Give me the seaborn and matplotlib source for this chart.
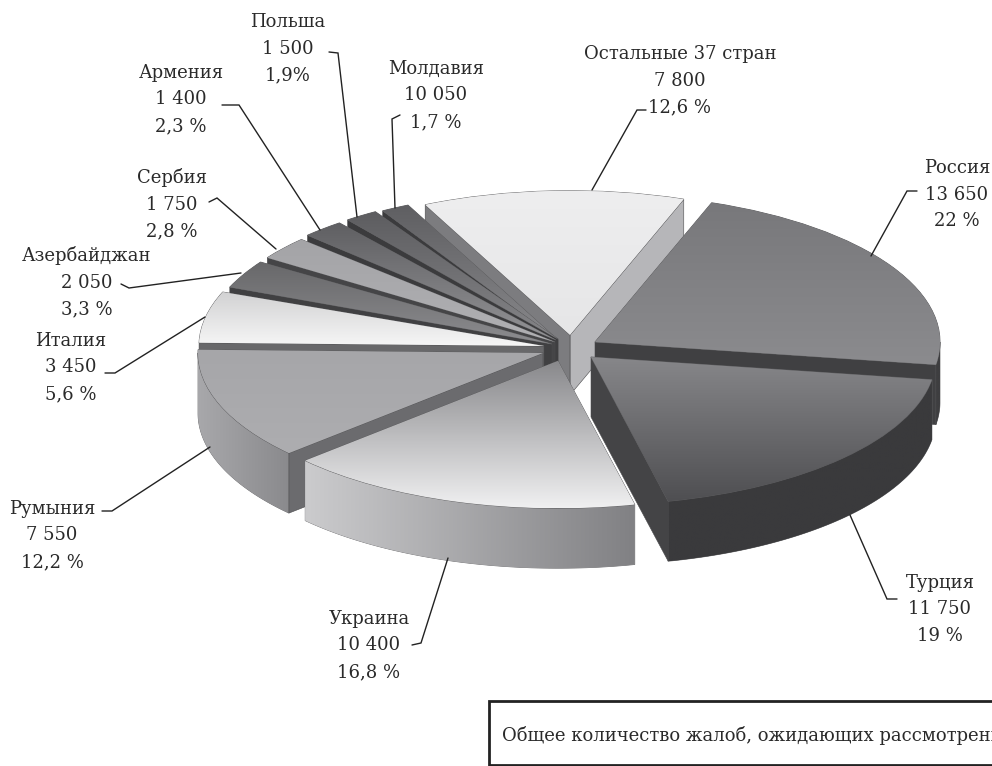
import numpy as np
import matplotlib
matplotlib.use("Agg")
import matplotlib.pyplot as plt
from matplotlib.patches import Polygon, Rectangle
import seaborn as sns

countries = ["Остальные 37 стран", "Россия", "Турция", "Украина", "Румыния", "Италия",
             "Азербайджан", "Сербия", "Армения", "Польша", "Молдавия"]
counts = ["7 800", "13 650", "11 750", "10 400", "7 550", "3 450", "2 050", "1 750", "1 400", "1 500", "10 050"]
share_text = ["12,6 %", "22 %", "19 %", "16,8 %", "12,2 %", "5,6 %", "3,3 %", "2,8 %", "2,3 %", "1,9%", "1,7 %"]
shares = [12.6, 22, 19, 16.8, 12.2, 5.6, 3.3, 2.8, 2.3, 1.9, 1.7]
box_text = "Общее количество жалоб, ожидающих рассмотрения"

W, H = 992, 766
RX, RY, DEPTH = 345.0, 148.0, 60.0
CX0, CY0 = 555.0, 345.0
START = 115.5

# layout / style per slice
tips = [(570, 335), (595, 342), (591, 357), (558, 361), (543, 353), (544, 346),
        (552, 344), (555, 342), (556, 340), (558, 339), (558, 340)]
radii = [.975, 1.0, 1.0, .995, 1.0, 1.0, 1.01, 1.01, 1.01, 1.01, 1.01]
trim = [0, 0, 0, 0, 0, 0, 1.0, 1.1, 1.2, 1.3, 1.4]
top_hi = ["#eeeeef", "#78787b", "#87878a", "#88888b", "#a6a6a9", "#d2d2d3",
          "#68686a", "#a4a4a7", "#5f5f62", "#5d5d60", "#5f5f62"]
top_lo = ["#e6e6e7", "#8b8b8e", "#4f4f52", "#f0f0f1", "#adadb0", "#f6f6f6",
          "#8c8c8f", "#b0b0b3", "#939396", "#858588", "#88888b"]
wall_l = ["#c8c8ca", "#3e3e40", "#3a3a3c", "#cbcbcd", "#a8a8ab", "#8f8f91",
          "#444446", "#444446", "#3a3a3c", "#3a3a3c", "#3a3a3c"]
wall_r = ["#c8c8ca", "#3e3e40", "#3a3a3c", "#818184", "#8a8a8d", "#8f8f91",
          "#444446", "#444446", "#3a3a3c", "#3a3a3c", "#3a3a3c"]
side_lo = ["#b6b6b9", "#404042", "#444446", "#9a9a9c", "#6b6b6e", "#68686a",
           "#404042", "#454547", "#3b3b3d", "#3b3b3d", "#3b3b3d"]
side_hi = ["#7c7c7f", "#404042", "#444446", "#9a9a9c", "#6b6b6e", "#68686a",
           "#404042", "#454547", "#3b3b3d", "#3b3b3d", "#3b3b3d"]
order = [0, 10, 9, 8, 7, 6, 5, 4, 3, 1, 2]

# label placement: centre x, centre y of first line, leader polyline in pixels
label_x = [680, 957, 940, 369, 52, 71, 87, 172, 181, 288, 436]
label_y = [53, 167, 582, 618, 508, 340, 255, 177, 72, 21, 68]
leaders = [[(646, 110), (637, 110), (592, 190)],
           [(917, 191), (907, 191), (871, 256)],
           [(850, 515), (887, 599), (897, 599)],
           [(448, 558), (421, 643), (412, 645)],
           [(210, 447), (112, 511), (102, 511)],
           [(205, 317), (115, 373), (105, 373)],
           [(241, 273), (129, 288), (121, 284)],
           [(276, 249), (217, 198), (209, 202)],
           [(320, 230), (239, 105), (222, 105)],
           [(357, 217), (338, 53), (329, 52)],
           [(395, 208), (392, 119), (400, 115)]]

sns.set_theme(style="white")
plt.rcParams["font.family"] = ["DejaVu Serif"]

fig = plt.figure(figsize=(W / 100, H / 100), dpi=100, facecolor="white")
ax = fig.add_axes([0, 0, 1, 1])
wedges, _ = ax.pie(shares, startangle=START, counterclock=False, colors=top_lo,
                   wedgeprops=dict(linewidth=0.6, edgecolor="#5a5a5c"))
ax.set_aspect("auto")
xlim = (-CX0 / RX, (W - CX0) / RX)
ylim = ((CY0 - H) / RY, CY0 / RY)


def ux(px):
    return (px - CX0) / RX


def uy(py):
    return (CY0 - py) / RY


d = DEPTH / RY
grad = np.linspace(0, 1, 128)
for rank, i in enumerate(order):
    w = wedges[i]
    cx, cy, r = ux(tips[i][0]), uy(tips[i][1]), radii[i]
    w.set_center((cx, cy))
    w.set_radius(r)
    w.set_theta2(w.theta2 - trim[i])
    base = 10 + rank * 5
    t1, t2 = w.theta1, w.theta2
    w.set_zorder(base + 3)

    # radial faces that look toward the viewer
    for th, visible, col in ((t1, np.cos(np.radians(t1)) > 0, side_lo[i]),
                             (t2, np.cos(np.radians(t2)) < 0, side_hi[i])):
        if visible:
            ex, ey = cx + r * np.cos(np.radians(th)), cy + r * np.sin(np.radians(th))
            ax.add_patch(Polygon([(cx, cy), (ex, ey), (ex, ey - d), (cx, cy - d)],
                                 closed=True, facecolor=col, edgecolor="#4a4a4c",
                                 linewidth=0.4, zorder=base + 1))

    # outer wall on the lower half of the ellipse
    lo, hi = t1, t2
    while hi > 0 and lo >= 0:
        lo, hi = lo - 360, hi - 360
    while hi <= -180:
        lo, hi = lo + 360, hi + 360
    a, b = max(lo, -180), min(hi, 0)
    if b > a:
        th = np.radians(np.linspace(a, b, 60))
        xs, ys = cx + r * np.cos(th), cy + r * np.sin(th)
        pts = np.r_[np.c_[xs, ys], np.c_[xs[::-1], ys[::-1] - d]]
        poly = Polygon(pts, closed=True, facecolor=wall_l[i], edgecolor="#6a6a6c",
                       linewidth=0.5, zorder=base)
        ax.add_patch(poly)
        cm = sns.blend_palette([wall_l[i], wall_r[i]], 64, as_cmap=True)
        im = ax.imshow(grad[None, :], cmap=cm, aspect="auto", origin="lower",
                       extent=(xs.min(), xs.max(), pts[:, 1].min(), pts[:, 1].max()),
                       zorder=base + 0.5)
        im.set_clip_path(poly)

    # gradient on the top face
    cm = sns.blend_palette([top_lo[i], top_hi[i]], 64, as_cmap=True)
    bb = np.array([[cx + r * np.cos(np.radians(q)), cy + r * np.sin(np.radians(q))]
                   for q in np.linspace(t1, t2, 60)] + [[cx, cy]])
    im = ax.imshow(grad[:, None], cmap=cm, aspect="auto", origin="lower",
                   extent=(bb[:, 0].min(), bb[:, 0].max(), bb[:, 1].min(), bb[:, 1].max()),
                   zorder=base + 4)
    im.set_clip_path(w)

ax.set_xlim(*xlim)
ax.set_ylim(*ylim)
ax.set_axis_off()

# overlay in pixel coordinates for annotation
ov = fig.add_axes([0, 0, 1, 1], facecolor="none")
ov.set_xlim(0, W)
ov.set_ylim(H, 0)
ov.set_axis_off()
LINE = 26.5
FS = 13
for i, name in enumerate(countries):
    for k, s in enumerate((name, counts[i], share_text[i])):
        ov.text(label_x[i], label_y[i] + k * LINE + 6, s, ha="center", va="baseline",
                fontsize=FS, color="#2a2a2a")
    pts = np.array(leaders[i])
    ov.plot(pts[:, 0], pts[:, 1], color="#222222", lw=1.0, solid_joinstyle="miter")

ov.add_patch(Rectangle((489, 701), 520, 64, facecolor="white", edgecolor="#222222", linewidth=2))
ov.text(502, 741, box_text, ha="left", va="baseline", fontsize=FS, color="#2a2a2a", clip_on=True)

fig.savefig("out.png", dpi=100)
